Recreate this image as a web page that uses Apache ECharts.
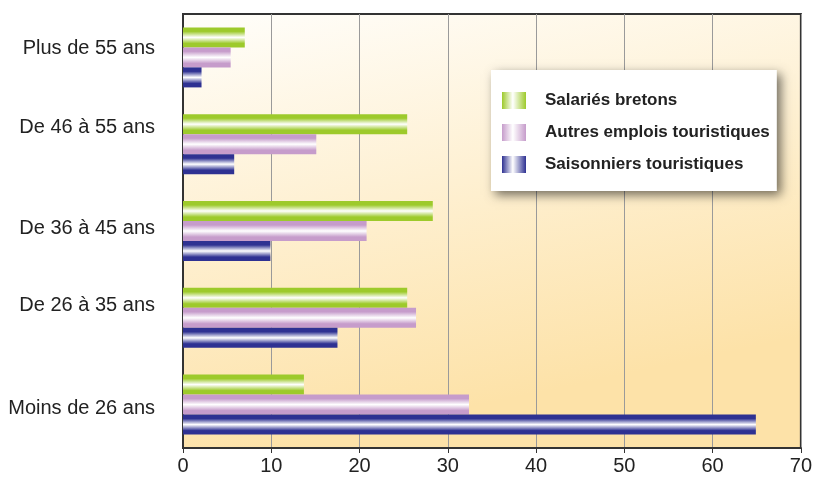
<!DOCTYPE html>
<html>
<head>
<meta charset="utf-8">
<script src="https://cdn.jsdelivr.net/npm/echarts@6/dist/echarts.min.js"></script>
<style>
    html, body { margin: 0; padding: 0; background: #fff; }
    #main { width: 815px; height: 477px; }
</style>
</head>
<body>
<div id="main"></div>
<script>
// tranches d'age, du haut vers le bas
var categories = ['Plus de 55 ans', 'De 46 à 55 ans', 'De 36 à 45 ans', 'De 26 à 35 ans', 'Moins de 26 ans'];
var seriesNames = ['Salariés bretons', 'Autres emplois touristiques', 'Saisonniers touristiques'];
var salaries = [7.0, 25.4, 28.3, 25.4, 13.7];
var autres = [5.4, 15.1, 20.8, 26.4, 32.4];
var saisonniers = [2.1, 5.8, 9.9, 17.5, 64.9];
var xTicks = [0, 10, 20, 30, 40, 50, 60, 70];

// decalage vertical des libelles (comme sur l'original)
var labelShift = [9, 17, 3, 12, -4];

var edgeColors = ['#9dca2b', '#c69ccb', '#2e3192'];

function tube(c) {   // effet cylindre
    return new echarts.graphic.LinearGradient(0, 0, 0, 1, [
        {offset: 0, color: c},
        {offset: 0.2, color: c},
        {offset: 0.5, color: '#ffffff'},
        {offset: 0.8, color: c},
        {offset: 1, color: c}
    ]);
}
function icon(c) {
    return new echarts.graphic.LinearGradient(0, 0, 1, 0, [
        {offset: 0, color: c},
        {offset: 0.45, color: '#ffffff'},
        {offset: 1, color: c}
    ]);
}

var rich = {};
labelShift.forEach(function (s, i) {
    rich['a' + i] = {
        fontSize: 20, color: '#222', fontFamily: "'Liberation Sans', Arial, sans-serif",
        padding: s > 0 ? [0, 0, 2 * s, 0] : [-2 * s, 0, 0, 0]
    };
});

var myChart = echarts.init(document.getElementById('main'));
var option = {
    backgroundColor: '#ffffff',
    animation: false,
    grid: {
        left: 183, right: 9, top: 14, bottom: 29,
        show: true,
        borderColor: '#333',
        borderWidth: 2,
        backgroundColor: new echarts.graphic.LinearGradient(0, 0, 0.15, 1, [
            {offset: 0, color: '#fffefb'},
            {offset: 1, color: '#fde2a8'}
        ])
    },
    legend: {
        orient: 'vertical',
        left: 491, top: 70,
        padding: [22, 7, 18, 11],
        itemWidth: 24, itemHeight: 17, itemGap: 15,
        backgroundColor: '#ffffff',
        shadowColor: 'rgba(0,0,0,0.55)',
        shadowBlur: 10,
        shadowOffsetX: 4,
        shadowOffsetY: 4,
        textStyle: {
            fontSize: 17, fontWeight: 'bold', color: '#222',
            fontFamily: "'Liberation Sans', Arial, sans-serif",
            padding: [0, 0, 0, 14]
        },
        data: seriesNames.map(function (n, i) {
            return {name: n, icon: 'rect', itemStyle: {color: icon(edgeColors[i])}};
        })
    },
    xAxis: {
        type: 'value',
        min: 0, max: 70, interval: 10,
        axisLine: {show: true, lineStyle: {color: '#333', width: 2}},
        axisTick: {show: true, length: 5, lineStyle: {color: '#333'}},
        axisLabel: {
            fontSize: 20, color: '#222', margin: 8,
            fontFamily: "'Liberation Sans Narrow', 'Liberation Sans', Arial, sans-serif",
            formatter: function (v) { return xTicks.indexOf(v) >= 0 ? String(v) : ''; }
        },
        splitLine: {show: true, lineStyle: {color: '#9a9a9a', width: 1}}
    },
    yAxis: {
        type: 'category',
        inverse: true,
        data: categories,
        axisLine: {show: true, lineStyle: {color: '#333', width: 2}},
        axisTick: {show: false},
        axisLabel: {
            margin: 28,
            formatter: function (v, i) { return '{a' + i + '|' + v + '}'; },
            rich: rich
        }
    },
    series: [
        {name: seriesNames[0], type: 'bar', data: salaries, barWidth: 20, barGap: '0%',
            itemStyle: {color: tube(edgeColors[0])}},
        {name: seriesNames[1], type: 'bar', data: autres, barWidth: 20, barGap: '0%',
            itemStyle: {color: tube(edgeColors[1])}},
        {name: seriesNames[2], type: 'bar', data: saisonniers, barWidth: 20, barGap: '0%',
            itemStyle: {color: tube(edgeColors[2])}}
    ]
};
myChart.setOption(option);
</script>
</body>
</html>
